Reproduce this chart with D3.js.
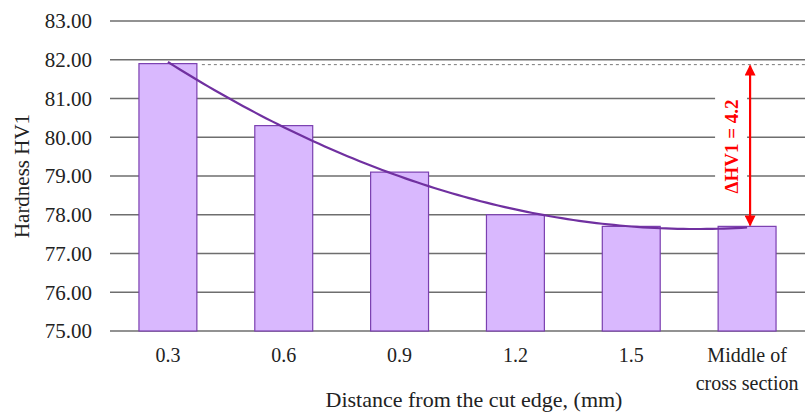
<!DOCTYPE html>
<html>
<head>
<meta charset="utf-8">
<script src="https://cdn.jsdelivr.net/npm/d3@7.9.0/dist/d3.min.js"></script>
<style>
  body { margin: 0; background: #fff; }
  svg { display: block; }
</style>
</head>
<body>
<svg id="chart" width="806" height="412" font-family="'Liberation Serif', 'Times New Roman', Times, serif"></svg>
<script>
// data
const categories = ["0.3", "0.6", "0.9", "1.2", "1.5", "Middle of\ncross section"];
const hardness = [81.9, 80.3, 79.1, 78.0, 77.7, 77.7];
const yTicks = [75, 76, 77, 78, 79, 80, 81, 82, 83];
const deltaLabel = "ΔHV1 = 4.2";

const svg = d3.select("#chart");
const margin = { top: 21, right: 1, bottom: 81, left: 110 };
const width = 806 - margin.left - margin.right;
const height = 412 - margin.top - margin.bottom;

const g = svg.append("g").attr("transform", `translate(${margin.left},${margin.top})`);

const x = d3.scaleBand().domain(categories).range([0, width])
  .paddingInner(0.5).paddingOuter(0.25);
const y = d3.scaleLinear().domain([75, 83]).range([height, 0]);

// gridlines
g.append("g")
  .selectAll("line")
  .data(yTicks)
  .join("line")
  .attr("x1", 0).attr("x2", width)
  .attr("y1", d => y(d)).attr("y2", d => y(d))
  .attr("stroke", "#6e6e6e")
  .attr("stroke-width", 1.3);

// y tick labels
g.append("g")
  .selectAll("text")
  .data(yTicks)
  .join("text")
  .attr("x", -18)
  .attr("y", d => y(d))
  .attr("dy", "0.35em")
  .attr("text-anchor", "end")
  .attr("font-size", 21)
  .attr("fill", "#222")
  .text(d => d.toFixed(2));

// bars
g.append("g")
  .selectAll("rect")
  .data(hardness)
  .join("rect")
  .attr("x", (d, i) => x(categories[i]))
  .attr("y", d => y(d))
  .attr("width", x.bandwidth())
  .attr("height", d => height - y(d))
  .attr("fill", "#d9b8fe")
  .attr("stroke", "#7a3fb0")
  .attr("stroke-width", 1.2);

// dashed reference at first bar level
g.append("line")
  .attr("x1", x(categories[0]) + x.bandwidth() + 5)
  .attr("x2", width)
  .attr("y1", y(hardness[0]) + 1)
  .attr("y2", y(hardness[0]) + 1)
  .attr("stroke", "#7a7a7a")
  .attr("stroke-width", 1)
  .attr("stroke-dasharray", "3,3");

// 2nd order polynomial trendline (least squares fit of the bars)
function polyFit(ys) {
  const n = ys.length;
  const xs = ys.map((d, i) => i + 1);
  const s = k => d3.sum(xs, v => Math.pow(v, k));
  const t = k => d3.sum(xs, (v, i) => Math.pow(v, k) * ys[i]);
  const A = [[n, s(1), s(2)], [s(1), s(2), s(3)], [s(2), s(3), s(4)]];
  const B = [t(0), t(1), t(2)];
  for (let i = 0; i < 3; i++) {
    for (let j = i + 1; j < 3; j++) {
      const f = A[j][i] / A[i][i];
      for (let k = i; k < 3; k++) A[j][k] -= f * A[i][k];
      B[j] -= f * B[i];
    }
  }
  const c = [0, 0, 0];
  for (let i = 2; i >= 0; i--) {
    let sum = B[i];
    for (let k = i + 1; k < 3; k++) sum -= A[i][k] * c[k];
    c[i] = sum / A[i][i];
  }
  return v => c[0] + c[1] * v + c[2] * v * v;
}
const fit = polyFit(hardness);
const xCenter = i => x(categories[0]) + x.bandwidth() / 2 + (i - 1) * x.step();
const trend = d3.range(1, 6.001, 0.05).map(v => [xCenter(v), y(fit(v))]);

g.append("path")
  .attr("d", d3.line()(trend))
  .attr("fill", "none")
  .attr("stroke", "#7030a0")
  .attr("stroke-width", 2.2);

// delta annotation
const last = categories.length - 1;
const ax = x(categories[last]) + x.bandwidth() / 2 + 3;
const yTop = y(hardness[0]) + 2;
const yBot = y(hardness[last]) - 1;
const labelY = (yTop + yBot) / 2 + 1;

g.append("rect")
  .attr("x", ax - 35)
  .attr("y", labelY - 62)
  .attr("width", 32)
  .attr("height", 124)
  .attr("fill", "#fff");

const defs = svg.append("defs");
defs.append("marker")
  .attr("id", "head")
  .attr("viewBox", "0 0 10 10")
  .attr("refX", 9).attr("refY", 5)
  .attr("markerWidth", 5).attr("markerHeight", 5)
  .attr("orient", "auto-start-reverse")
  .append("path")
  .attr("d", "M0,0 L10,5 L0,10 z")
  .attr("fill", "#ff0000");

g.append("line")
  .attr("x1", ax).attr("x2", ax)
  .attr("y1", yTop).attr("y2", yBot)
  .attr("stroke", "#ff0000")
  .attr("stroke-width", 2.2)
  .attr("marker-start", "url(#head)")
  .attr("marker-end", "url(#head)");

g.append("text")
  .attr("transform", `translate(${ax - 12},${labelY}) rotate(-90)`)
  .attr("text-anchor", "middle")
  .attr("font-size", 19)
  .attr("font-weight", "bold")
  .attr("fill", "#ff0000")
  .text(deltaLabel);

// x tick labels
const xl = g.append("g");
categories.forEach(c => {
  const lines = c.split("\n");
  const t = xl.append("text")
    .attr("text-anchor", "middle")
    .attr("font-size", 20)
    .attr("fill", "#222")
    .attr("transform", `translate(${x(c) + x.bandwidth() / 2},${height + 31})`);
  lines.forEach((s, i) => {
    t.append("tspan").attr("x", 0).attr("dy", i === 0 ? 0 : 28).text(s);
  });
});

// axis titles
svg.append("text")
  .attr("x", 474)
  .attr("y", 407)
  .attr("text-anchor", "middle")
  .attr("font-size", 22)
  .attr("fill", "#222")
  .text("Distance from the cut edge, (mm)");

svg.append("text")
  .attr("transform", `translate(29,${margin.top + height / 2}) rotate(-90)`)
  .attr("text-anchor", "middle")
  .attr("font-size", 21)
  .attr("fill", "#222")
  .text("Hardness HV1");
</script>
</body>
</html>
